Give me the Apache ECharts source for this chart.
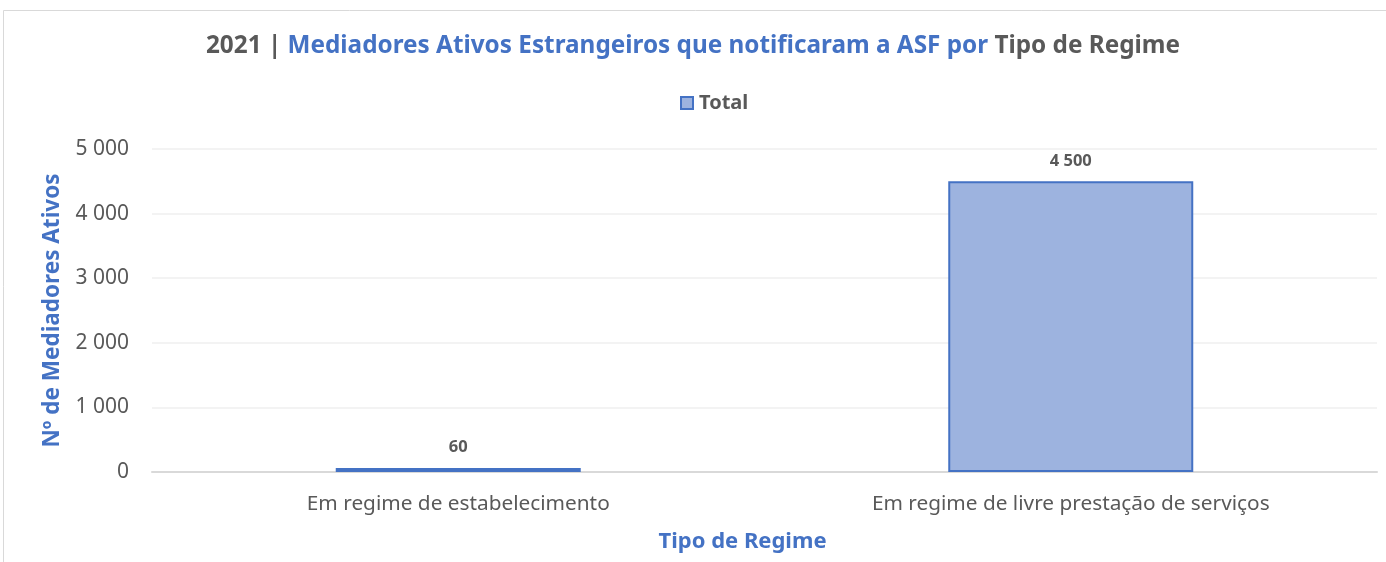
<!DOCTYPE html>
<html><head><meta charset="utf-8">
<script src="https://cdn.jsdelivr.net/npm/echarts@6/dist/echarts.min.js"></script>
<style>html,body{margin:0;padding:0;background:#fff}#c{width:1386px;height:562px}</style>
</head><body><div id="c"></div>
<script>
const categories = ['Em regime de estabelecimento', 'Em regime de livre prestação de serviços'];
const totalValues = [60, 4500];
const seriesName = 'Total';
const yTicks = { min: 0, max: 5000, interval: 1000 };

const fmt = v => String(v).replace(/\B(?=(\d{3})+(?!\d))/g, ' ');
const FONT = "'Noto Sans', sans-serif";
const chart = echarts.init(document.getElementById('c'));
chart.setOption({
  animation: false,
  backgroundColor: '#fff',
  graphic: [{ type: 'rect', shape: { x: 3.5, y: 10.5, width: 1400, height: 600 }, style: { fill: 'none', stroke: '#d9d9d9', lineWidth: 1 }, silent: true }],
  title: {
    left: 'center', top: 29,
    text: '{g|2021 | }{b|Mediadores Ativos Estrangeiros que notificaram a ASF por }{g|Tipo de Regime}',
    textStyle: { rich: {
      g: { color: '#595959', fontSize: 24.3, fontWeight: 'bold', fontFamily: FONT },
      b: { color: '#4472C4', fontSize: 24.3, fontWeight: 'bold', fontFamily: FONT }
    } }
  },
  legend: {
    top: 88, left: 675, itemWidth: 12, itemHeight: 12, itemGap: 6,
    icon: 'rect',
    textStyle: { color: '#595959', fontSize: 20, fontWeight: 'bold', fontFamily: FONT, padding: [0, 0, 0, 1] },
    data: [{ name: seriesName, itemStyle: { color: '#9DB3DF', borderColor: '#4472C4', borderWidth: 2 } }]
  },
  grid: { left: 152, right: 9, top: 149, bottom: 90, containLabel: false },
  xAxis: {
    type: 'category', data: categories,
    axisLine: { lineStyle: { color: '#d9d9d9', width: 2 } },
    axisTick: { show: false },
    axisLabel: { color: '#595959', fontSize: 20.8, fontFamily: FONT, margin: 22 },
    name: 'Tipo de Regime', nameLocation: 'middle', nameGap: 59,
    nameTextStyle: { color: '#4472C4', fontSize: 22, fontWeight: 'bold', fontFamily: FONT, padding: [0, 44, 0, 0] }
  },
  yAxis: {
    type: 'value', min: yTicks.min, max: yTicks.max, interval: yTicks.interval,
    axisLine: { show: false }, axisTick: { show: false },
    splitLine: { lineStyle: { color: '#efefef', width: 1.5 } },
    axisLabel: { color: '#595959', fontSize: 21, fontFamily: FONT, margin: 23, formatter: fmt },
    name: 'Nº de Mediadores Ativos', nameLocation: 'middle', nameGap: 86, nameRotate: 90,
    nameTextStyle: { color: '#4472C4', fontSize: 22.5, fontWeight: 'bold', fontFamily: FONT }
  },
  series: [{
    name: seriesName, type: 'bar', data: totalValues, barWidth: '40%',
    itemStyle: { color: '#9DB3DF', borderColor: '#4472C4', borderWidth: 2 },
    label: { show: true, position: 'top', distance: 12, color: '#595959', fontSize: 16.5, fontWeight: 'bold', fontFamily: FONT, formatter: p => fmt(p.value) }
  }]
});
</script></body></html>
